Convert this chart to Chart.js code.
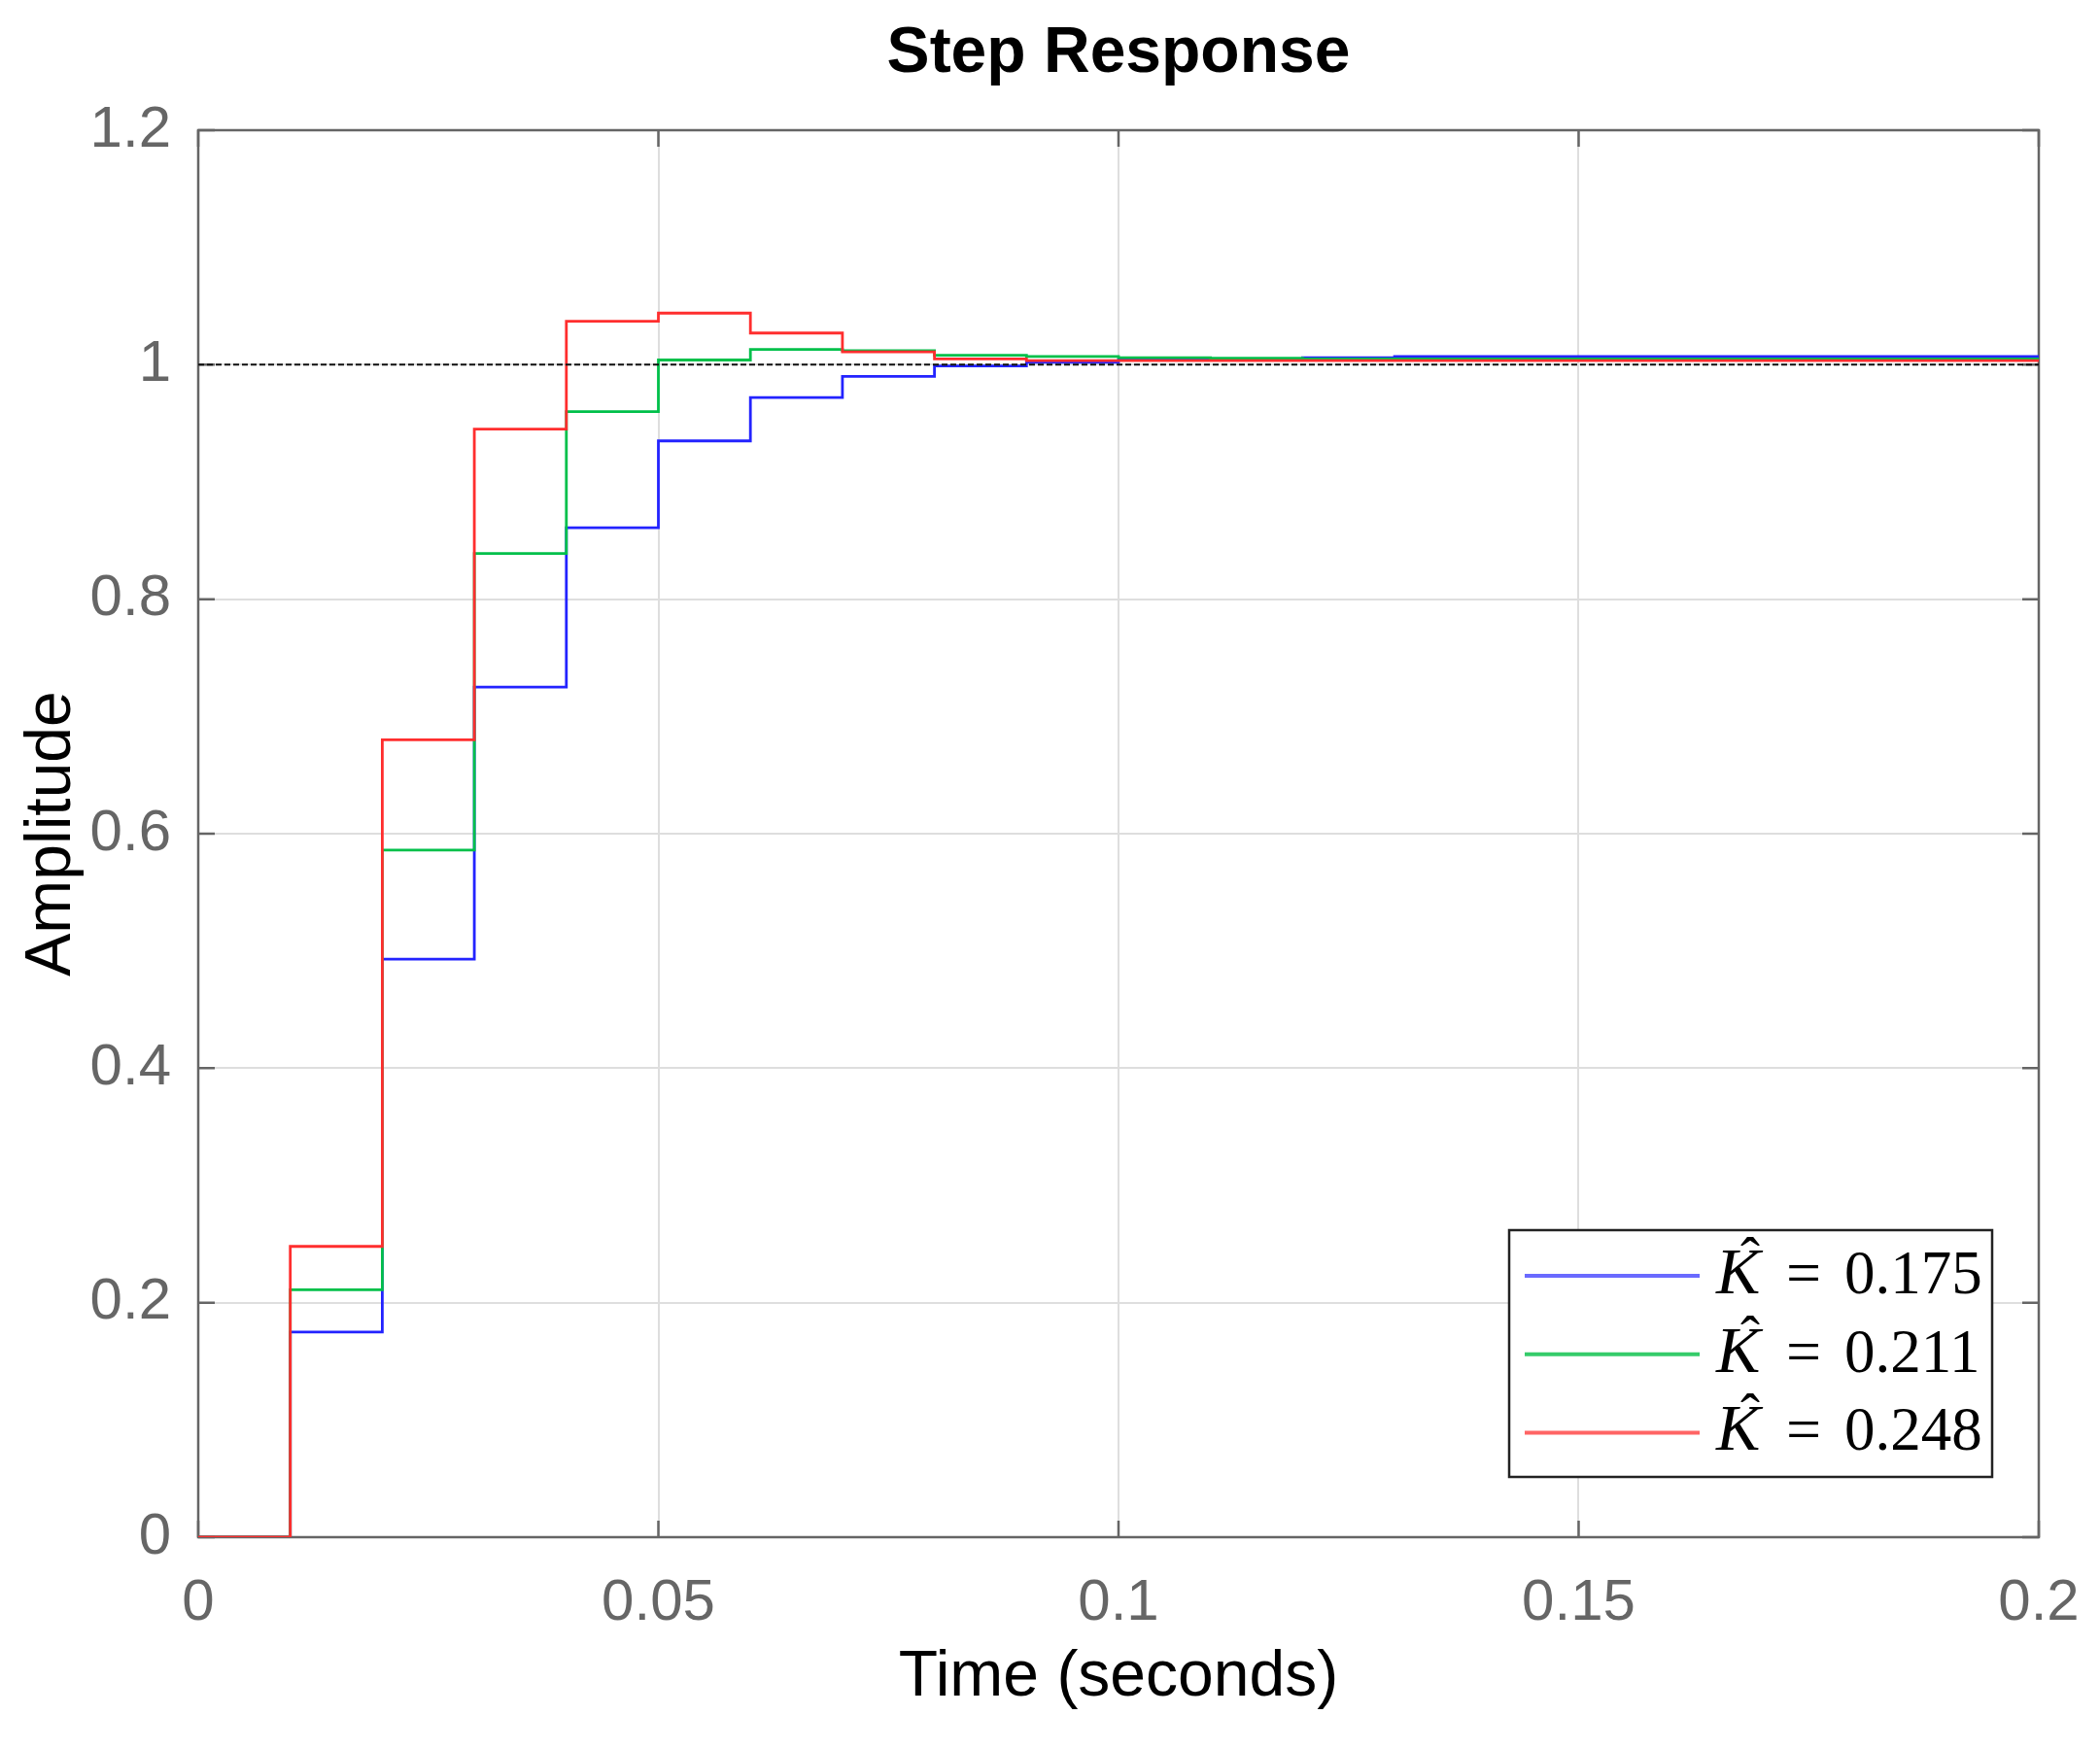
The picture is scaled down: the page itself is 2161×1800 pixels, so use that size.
<!DOCTYPE html>
<html>
<head>
<meta charset="utf-8">
<title>Step Response</title>
<script src="https://cdn.jsdelivr.net/npm/chart.js@4.4.1/dist/chart.umd.min.js"></script>
<style>
    html, body { margin: 0; padding: 0; background: #fff; }
    #wrap { width: 2161px; height: 1800px; }
</style>
</head>
<body>
<div id="wrap"><canvas id="stepChart" width="2161" height="1800"></canvas></div>
<script>
// sample instants (s) - discrete system, Ts = 0.01
const times = [0, 0.01, 0.02, 0.03, 0.04, 0.05, 0.06, 0.07, 0.08, 0.09, 0.10,
               0.11, 0.12, 0.13, 0.14, 0.15, 0.16, 0.17, 0.18, 0.19, 0.20];

// step responses, one per gain
const stepK175 = [0, 0.175, 0.493, 0.725, 0.861, 0.935, 0.972, 0.990, 0.999, 1.002, 1.004,
                  1.005, 1.006, 1.007, 1.007, 1.007, 1.007, 1.007, 1.007, 1.007, 1.007];
const stepK211 = [0, 0.211, 0.586, 0.839, 0.960, 1.004, 1.013, 1.012, 1.008, 1.007, 1.006,
                  1.0055, 1.005, 1.005, 1.005, 1.005, 1.005, 1.005, 1.005, 1.005, 1.005];
const stepK248 = [0, 0.248, 0.680, 0.945, 1.037, 1.044, 1.027, 1.011, 1.005, 1.0035, 1.0035,
                  1.0035, 1.0035, 1.0035, 1.0035, 1.0035, 1.0035, 1.0035, 1.0035, 1.0035, 1.0035];

const gains = ['0.175', '0.211', '0.248'];
const steadyState = 1;

const xTicks = [0, 0.05, 0.1, 0.15, 0.2];
const yTicks = [0, 0.2, 0.4, 0.6, 0.8, 1, 1.2];

const toPoints = (ys) => ys.map((v, i) => ({ x: times[i], y: v }));
const fmt = (v) => String(Number(v.toFixed(3)));

const AXIS_GRAY = '#656565';
const SANS = "'Liberation Sans', Arial, sans-serif";
const SERIF = "'Liberation Serif', 'Times New Roman', serif";

// caixa do eixo + ticks para dentro (estilo MATLAB) e legenda no canto
const matlabAxes = {
    id: 'matlabAxes',
    beforeDatasetsDraw(chart) {
        const { ctx, chartArea: a, scales: { x, y } } = chart;
        const tick = 17;
        ctx.save();
        ctx.strokeStyle = AXIS_GRAY;
        ctx.lineWidth = 2.5;
        ctx.beginPath();
        xTicks.forEach((v) => {
            const px = x.getPixelForValue(v);
            ctx.moveTo(px, a.bottom); ctx.lineTo(px, a.bottom - tick);
            ctx.moveTo(px, a.top); ctx.lineTo(px, a.top + tick);
        });
        yTicks.forEach((v) => {
            const py = y.getPixelForValue(v);
            ctx.moveTo(a.left, py); ctx.lineTo(a.left + tick, py);
            ctx.moveTo(a.right, py); ctx.lineTo(a.right - tick, py);
        });
        ctx.stroke();
        ctx.strokeRect(a.left, a.top, a.right - a.left, a.bottom - a.top);
        ctx.restore();
    },
    afterDraw(chart) {
        const { ctx, chartArea: a } = chart;
        const bw = 497, bh = 254;
        const bx = a.right - 545, by = a.bottom - 316;
        ctx.save();
        ctx.fillStyle = '#fff';
        ctx.fillRect(bx, by, bw, bh);
        ctx.strokeStyle = '#222';
        ctx.lineWidth = 2.5;
        ctx.strokeRect(bx, by, bw, bh);

        const series = chart.data.datasets.filter((d) => d.gain);
        series.forEach((d, i) => {
            const ly = by + 47 + i * 80.7;
            ctx.strokeStyle = d.legendColor;
            ctx.lineWidth = 4;
            ctx.beginPath();
            ctx.moveTo(bx + 16, ly);
            ctx.lineTo(bx + 196, ly);
            ctx.stroke();

            const base = ly + 18;
            ctx.fillStyle = '#000';
            ctx.textBaseline = 'alphabetic';
            ctx.textAlign = 'left';
            ctx.font = 'italic 68px ' + SERIF;
            ctx.fillText('K', bx + 213, base);
            ctx.textAlign = 'center';
            ctx.font = '60px ' + SERIF;
            ctx.fillText('\u02C6', bx + 248, base - 17);
            ctx.font = '64px ' + SERIF;
            ctx.fillText('=', bx + 303, base);
            ctx.textAlign = 'left';
            ctx.font = '63px ' + SERIF;
            ctx.fillText(d.gain, bx + 345, base);
        });
        ctx.restore();
    }
};

const stepStyle = (color, legendColor) => ({
    borderColor: color,
    legendColor: legendColor,
    borderWidth: 2.8,
    pointRadius: 0,
    stepped: 'before',
    fill: false
});

new Chart(document.getElementById('stepChart'), {
    type: 'line',
    data: {
        datasets: [
            {
                label: 'final value',
                data: [{ x: times[0], y: steadyState }, { x: times[times.length - 1], y: steadyState }],
                borderColor: '#111',
                borderWidth: 2,
                borderDash: [6, 3],
                pointRadius: 0,
                order: 0
            },
            Object.assign({ label: 'K = ' + gains[0], gain: gains[0], data: toPoints(stepK175), order: 3 }, stepStyle('#2323ff', '#6a6aff')),
            Object.assign({ label: 'K = ' + gains[1], gain: gains[1], data: toPoints(stepK211), order: 2 }, stepStyle('#00c04a', '#35cc6a')),
            Object.assign({ label: 'K = ' + gains[2], gain: gains[2], data: toPoints(stepK248), order: 1 }, stepStyle('#ff2e2e', '#ff6464'))
        ]
    },
    options: {
        responsive: false,
        animation: false,
        layout: { padding: { left: 0, right: 63, top: 0, bottom: 0 } },
        plugins: {
            legend: { display: false },
            tooltip: { enabled: false },
            title: {
                display: true,
                fullSize: false,
                text: 'Step Response',
                color: '#000',
                font: { family: SANS, size: 66, weight: 'bold', lineHeight: 1.2 },
                padding: { top: 16, bottom: 38.8 }
            }
        },
        scales: {
            x: {
                type: 'linear',
                position: 'bottom',
                min: 0,
                max: 0.2,
                afterBuildTicks: (scale) => { scale.ticks = xTicks.map((v) => ({ value: v })); },
                afterFit: (scale) => { scale.height = 218; },
                grid: { color: '#dedede', lineWidth: 2, drawTicks: true, tickLength: 32, tickColor: 'rgba(0,0,0,0)' },
                border: { display: false },
                ticks: {
                    padding: 0,
                    color: '#666',
                    autoSkip: false,
                    maxRotation: 0,
                    font: { family: SANS, size: 60 },
                    callback: (v) => fmt(v)
                },
                title: {
                    display: true,
                    text: 'Time (seconds)',
                    color: '#000',
                    font: { family: SANS, size: 66, lineHeight: 1.2 },
                    padding: { top: 0, bottom: 34 }
                }
            },
            y: {
                type: 'linear',
                min: 0,
                max: 1.2,
                afterBuildTicks: (scale) => { scale.ticks = yTicks.map((v) => ({ value: v })); },
                afterFit: (scale) => { scale.width = 204; },
                grid: { color: '#dedede', lineWidth: 2, drawTicks: false },
                border: { display: false },
                ticks: {
                    padding: 28,
                    color: '#666',
                    font: { family: SANS, size: 60 },
                    callback: (v) => fmt(v)
                },
                title: {
                    display: true,
                    text: 'Amplitude',
                    color: '#000',
                    font: { family: SANS, size: 66, lineHeight: 1.2 },
                    padding: { top: 14, bottom: 0 }
                }
            }
        }
    },
    plugins: [matlabAxes]
});
</script>
</body>
</html>
